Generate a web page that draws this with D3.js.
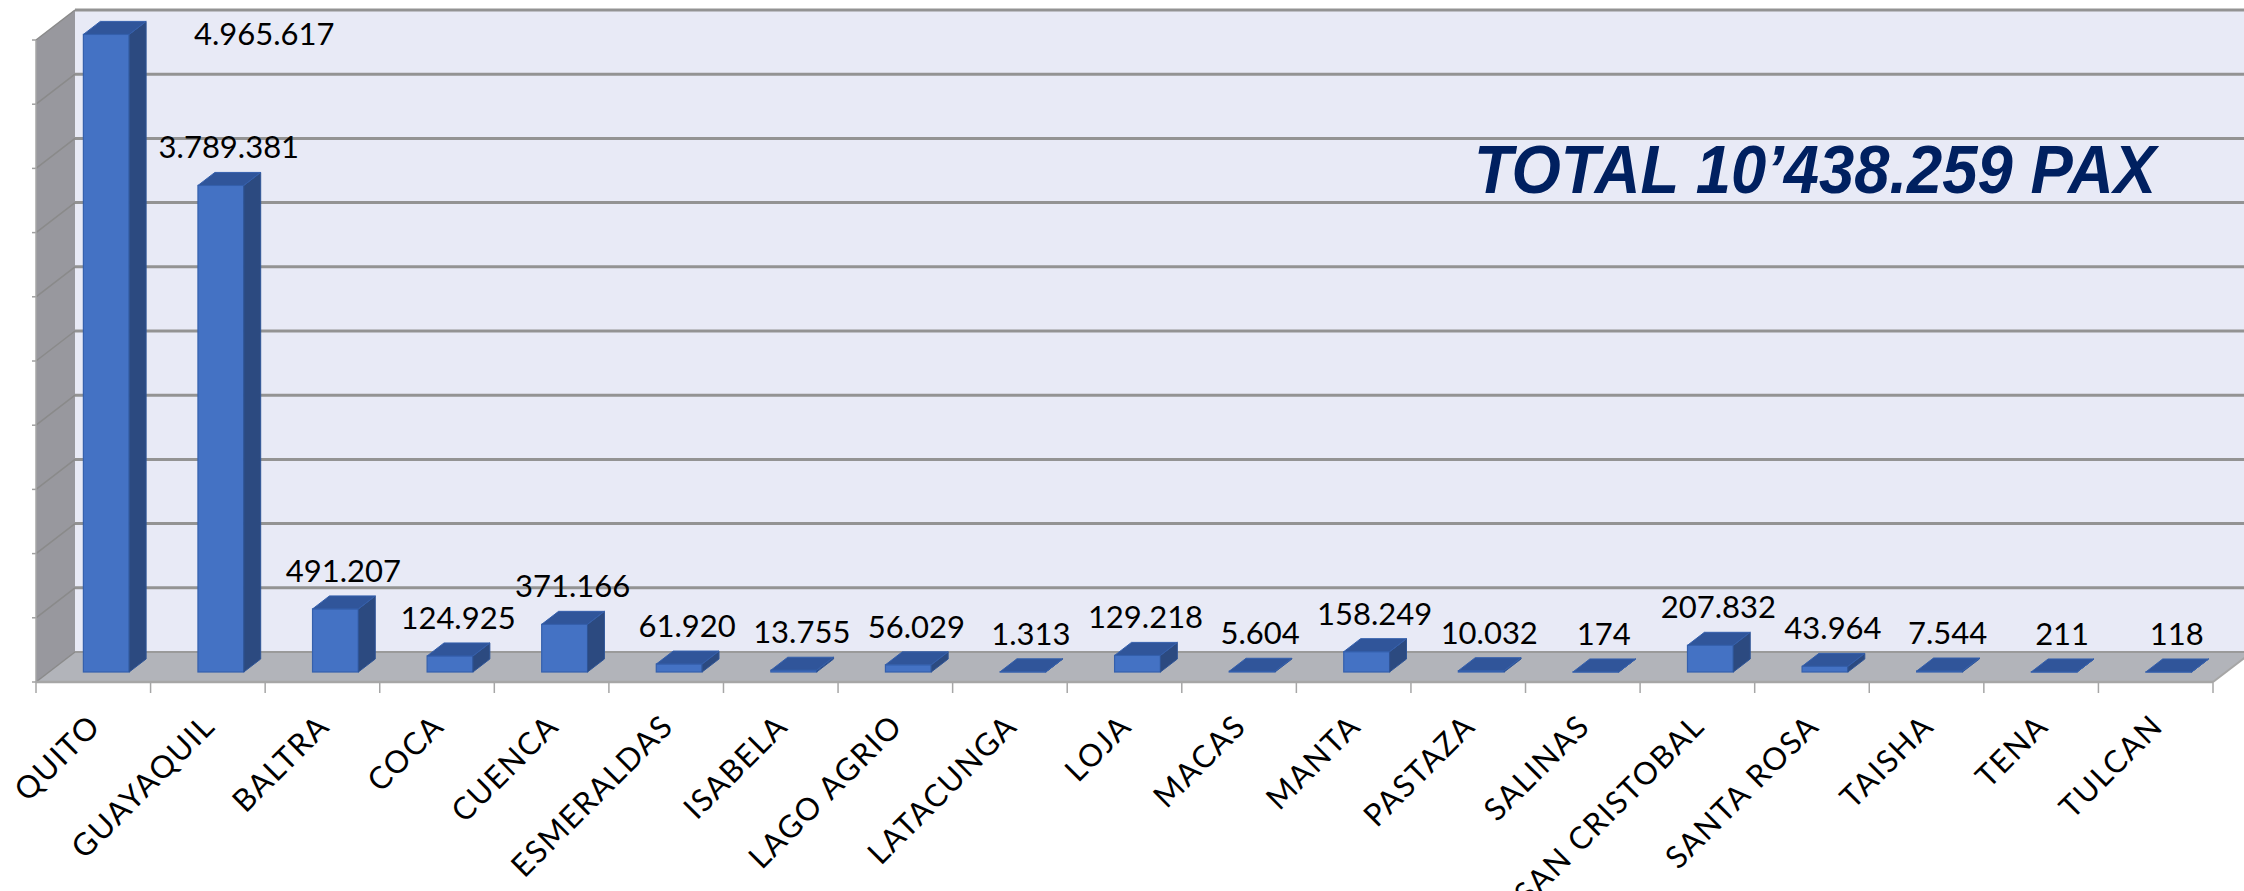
<!DOCTYPE html>
<html>
<head>
<meta charset="utf-8">
<script src="https://cdn.jsdelivr.net/npm/d3@7"></script>
<style>
    body { margin: 0; background: #fff; }
    svg { display: block; }
</style>
</head>
<body>
<div id="chart"></div>
<script>
const categories = ["QUITO", "GUAYAQUIL", "BALTRA", "COCA", "CUENCA", "ESMERALDAS", "ISABELA",
    "LAGO AGRIO", "LATACUNGA", "LOJA", "MACAS", "MANTA", "PASTAZA", "SALINAS",
    "SAN CRISTOBAL", "SANTA ROSA", "TAISHA", "TENA", "TULCAN"];
const passengers = [4965617, 3789381, 491207, 124925, 371166, 61920, 13755,
    56029, 1313, 129218, 5604, 158249, 10032, 174,
    207832, 43964, 7544, 211, 118];
const yTicks = d3.range(0, 5000001, 500000);

const width = 2244, height = 891;
const floorFront = 682, left = 36, right = 2213;
const dx = 39, dy = -30;            // depth of the 3d box (oblique)
const backFloor = floorFront + dy;  // 652

const x = d3.scaleBand().domain(categories).range([left, right]).padding(0);
const y = d3.scaleLinear().domain([0, 5000000]).range([backFloor, 10]);

const loc = d3.formatLocale({ decimal: ",", thousands: ".", grouping: [3], currency: ["", ""] });
const fmt = loc.format(",d");

const svg = d3.select("#chart").append("svg")
    .attr("width", width)
    .attr("height", height)
    .attr("viewBox", [0, 0, width, height]);

const pts = p => p.map(d => d.join(",")).join(" ");

// back wall
svg.append("polygon")
    .attr("points", pts([[left + dx, y(5000000)], [right + dx, y(5000000)], [right + dx, backFloor], [left + dx, backFloor]]))
    .attr("fill", "#e8eaf6");

// side wall
svg.append("polygon")
    .attr("points", pts([[left, y(5000000) - dy], [left + dx, y(5000000)], [left + dx, backFloor], [left, floorFront]]))
    .attr("fill", "#98989e");

// floor
svg.append("polygon")
    .attr("points", pts([[left, floorFront], [right, floorFront], [right + dx, backFloor], [left + dx, backFloor]]))
    .attr("fill", "#b2b4ba");

// gridlines on back wall and side wall
const grid = svg.append("g");
grid.selectAll("line.back")
    .data(yTicks.slice(1))
    .join("line")
    .attr("class", "back")
    .attr("x1", left + dx).attr("x2", right + dx)
    .attr("y1", d => y(d)).attr("y2", d => y(d))
    .attr("stroke", "#939393")
    .attr("stroke-width", 3);
grid.selectAll("line.side")
    .data(yTicks)
    .join("line")
    .attr("class", "side")
    .attr("x1", left).attr("x2", left + dx)
    .attr("y1", d => y(d) - dy).attr("y2", d => y(d))
    .attr("stroke", "#8a8a8a")
    .attr("stroke-width", 1.5);
grid.selectAll("line.ytick")
    .data(yTicks)
    .join("line")
    .attr("class", "ytick")
    .attr("x1", left - 4).attr("x2", left)
    .attr("y1", d => y(d) - dy).attr("y2", d => y(d) - dy)
    .attr("stroke", "#a0a0a0")
    .attr("stroke-width", 1.5);
svg.append("line")
    .attr("x1", left).attr("x2", left)
    .attr("y1", y(5000000) - dy).attr("y2", floorFront)
    .attr("stroke", "#a6a6a6").attr("stroke-width", 1.5);
svg.append("line")
    .attr("x1", left + dx).attr("x2", right + dx)
    .attr("y1", backFloor).attr("y2", backFloor)
    .attr("stroke", "#9a9a9a").attr("stroke-width", 2);

// floor front edge and category ticks
svg.append("line")
    .attr("x1", left).attr("x2", right)
    .attr("y1", floorFront).attr("y2", floorFront)
    .attr("stroke", "#a6a6a6").attr("stroke-width", 2.5);
svg.append("line")
    .attr("x1", right).attr("x2", right + dx)
    .attr("y1", floorFront).attr("y2", backFloor)
    .attr("stroke", "#a6a6a6").attr("stroke-width", 2);
svg.append("g").selectAll("line")
    .data(categories.map(c => x(c)).concat([right]))
    .join("line")
    .attr("x1", d => d).attr("x2", d => d)
    .attr("y1", floorFront).attr("y2", floorFront + 11)
    .attr("stroke", "#a6a6a6").attr("stroke-width", 1.5);

// bars
const bw = x.bandwidth() * 0.4;
const f1 = 1 / 3, f2 = 0.767;
const bars = categories.map((c, i) => {
    const h = y(0) - y(passengers[i]);
    const fx = x(c) + (x.bandwidth() - bw) / 2 + dx * f1;
    const fb = floorFront + dy * f1;
    const sx = dx * (f2 - f1), sy = dy * (f2 - f1);
    return { c, v: passengers[i], h, fx, fb, ft: fb - h, sx, sy };
});

const bar = svg.append("g").selectAll("g")
    .data(bars)
    .join("g");

bar.append("rect")
    .attr("x", d => d.fx).attr("y", d => d.ft)
    .attr("width", bw).attr("height", d => d.h)
    .attr("fill", "#4472c4")
    .attr("stroke", "#3560ad").attr("stroke-width", 1.2);
bar.append("polygon")
    .attr("points", d => pts([[d.fx + bw, d.ft], [d.fx + bw + d.sx, d.ft + d.sy], [d.fx + bw + d.sx, d.fb + d.sy], [d.fx + bw, d.fb]]))
    .attr("fill", "#2c4a80")
    .attr("stroke", "#2f5597").attr("stroke-width", 1);
bar.append("polygon")
    .attr("points", d => pts([[d.fx, d.ft], [d.fx + d.sx, d.ft + d.sy], [d.fx + bw + d.sx, d.ft + d.sy], [d.fx + bw, d.ft]]))
    .attr("fill", "#30559a")
    .attr("stroke", "#3560ad").attr("stroke-width", 1);

// value labels (moved beside the bar when there is no room above it)
bar.append("text")
    .attr("x", d => {
        const base = d.fx + bw / 2 + 8;
        return d.ft + d.sy - 36 < 0 ? base + 150 : base;
    })
    .attr("y", d => {
        const base = d.ft + d.sy - 14;
        return base - 24 < 0 ? d.ft + d.sy + 24 : base;
    })
    .attr("text-anchor", "middle")
    .attr("font-family", "Lato, 'DejaVu Sans', sans-serif")
    .attr("font-size", 31)
    .attr("fill", "#000")
    .text(d => fmt(d.v));

// category labels
svg.append("g").selectAll("text")
    .data(categories)
    .join("text")
    .attr("transform", c => `translate(${x(c) + x.bandwidth() / 2 + 9},728) rotate(-45)`)
    .attr("text-anchor", "end")
    .attr("font-family", "Lato, 'DejaVu Sans', sans-serif")
    .attr("font-size", 31)
    .attr("letter-spacing", 1.5)
    .attr("fill", "#000")
    .text(c => c);

// total
const total = d3.sum(passengers);
const totalText = "TOTAL " + Math.floor(total / 1e6) + "\u2019" + fmt(total % 1e6) + " PAX";
svg.append("text")
    .attr("x", 1474)
    .attr("y", 193)
    .attr("font-family", "'Liberation Sans', Arial, sans-serif")
    .attr("font-weight", "bold")
    .attr("font-style", "italic")
    .attr("font-size", 68)
    .attr("textLength", 682)
    .attr("lengthAdjust", "spacingAndGlyphs")
    .attr("fill", "#002060")
    .text(totalText);
</script>
</body>
</html>
